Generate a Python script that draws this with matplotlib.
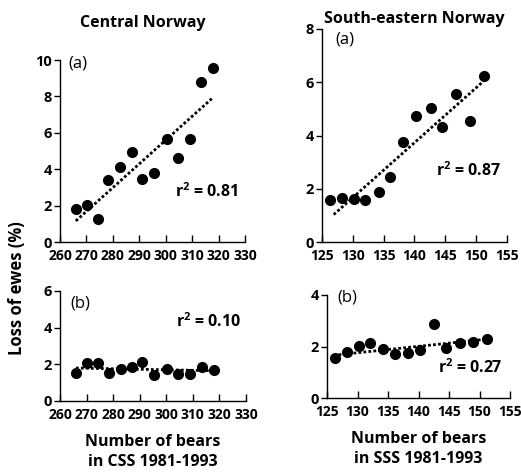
#!/usr/bin/env python3
"""Loss of ewes vs number of bears, central and south-eastern Norway."""

import matplotlib
matplotlib.use("Agg")
import matplotlib.pyplot as plt

# Central Norway: bears in CSS 1981-1993
css_bears = [266, 270.3, 274.4, 278.3, 282.8, 287.1, 291.0, 295.5, 300.3, 304.5, 309.0, 313.5, 318.0]
css_loss_a = [1.80, 2.03, 1.25, 3.41, 4.14, 4.92, 3.44, 3.78, 5.65, 4.60, 5.65, 8.78, 9.54]
css_loss_b = [1.53, 2.09, 2.09, 1.53, 1.74, 1.83, 2.14, 1.41, 1.76, 1.46, 1.46, 1.88, 1.69]
css_fit_x = [266, 318]
css_fit_a = [1.16, 7.95]
css_fit_b = [1.80, 1.65]

# South-eastern Norway: bears in SSS 1981-1993
sss_bears = [126.3, 128.2, 130.2, 132.0, 134.2, 136.1, 138.2, 140.2, 142.6, 144.5, 146.8, 149.0, 151.3]
sss_loss_a = [1.58, 1.66, 1.62, 1.58, 1.86, 2.43, 3.75, 4.75, 5.03, 4.31, 5.57, 4.55, 6.24]
sss_loss_b = [1.56, 1.79, 2.03, 2.13, 1.91, 1.71, 1.73, 1.88, 2.88, 1.96, 2.15, 2.19, 2.28]
sss_fit_x = [126.9, 151.0]
sss_fit_a = [1.03, 6.0]
sss_fit_b = [1.68, 2.28]

r2_labels = ["0.81", "0.10", "0.87", "0.27"]

FONT = "Open Sans"
plt.rcParams.update({
    "font.family": FONT, "font.weight": "bold", "font.size": 10,
    "mathtext.fontset": "custom", "mathtext.bf": FONT + ":bold",
    "mathtext.rm": FONT + ":bold",
})

W, H = 521, 476
fig = plt.figure(figsize=(W / 100, H / 100), dpi=100)
fig.patch.set_facecolor("white")


def px_axes(x0, x1, ytop, ybot):
    return fig.add_axes([x0 / W, 1 - ybot / H, (x1 - x0) / W, (ybot - ytop) / H])


def style(ax, xlim, xticks, ylim, yticks):
    ax.set_xlim(*xlim)
    ax.set_ylim(*ylim)
    ax.set_xticks(list(xticks), [str(t) for t in xticks], fontweight="bold", fontsize=10)
    ax.set_yticks(list(yticks), [str(t) for t in yticks], fontweight="bold", fontsize=10.5)
    for s in ("top", "right"):
        ax.spines[s].set_visible(False)
    for s in ("left", "bottom"):
        ax.spines[s].set_linewidth(1.0)
    ax.tick_params(axis="x", direction="in", length=5, width=1.0, pad=5)
    ax.tick_params(axis="y", direction="out", length=4, width=1.0, pad=2)


def draw(ax, x, y, fx, fy):
    ax.plot(x, y, "o", color="black", markersize=7, clip_on=False, zorder=3)
    ax.plot(fx, fy, color="black", lw=2.0, linestyle=(0, (1.0, 0.8)), zorder=2)


def r2_text(ax, xf, yf, val):
    ax.text(xf, yf, r"r$^{2}$ = " + val, transform=ax.transAxes, ha="center",
            va="center", fontsize=11.5, fontweight="bold")


def tag(ax, xf, yf, s):
    ax.text(xf, yf, s, transform=ax.transAxes, ha="center", va="center",
            fontsize=12, fontweight="normal")


css_xt = range(260, 331, 10)
sss_xt = range(125, 156, 5)

ax1 = px_axes(60, 245, 60, 242)
style(ax1, (260, 330), css_xt, (0, 10), range(0, 11, 2))
draw(ax1, css_bears, css_loss_a, css_fit_x, css_fit_a)
tag(ax1, 0.095, 0.98, "(a)")
r2_text(ax1, 0.795, 0.275, r2_labels[0])
ax1.set_title("Central Norway", fontsize=11.5, fontweight="bold", pad=24, x=0.45)

ax2 = px_axes(60, 246, 291, 401)
style(ax2, (260, 330), css_xt, (0, 6), range(0, 7, 2))
draw(ax2, css_bears, css_loss_b, css_fit_x, css_fit_b)
tag(ax2, 0.11, 0.89, "(b)")
r2_text(ax2, 0.8, 0.72, r2_labels[1])
ax2.set_xlabel("Number of bears\nin CSS 1981-1993", fontsize=11.5,
               fontweight="bold", labelpad=9, linespacing=1.3)

ax3 = px_axes(322, 507, 29, 242)
style(ax3, (125, 155), sss_xt, (0, 8), range(0, 9, 2))
draw(ax3, sss_bears, sss_loss_a, sss_fit_x, sss_fit_a)
tag(ax3, 0.125, 0.953, "(a)")
r2_text(ax3, 0.79, 0.333, r2_labels[2])
ax3.set_title("South-eastern Norway", fontsize=11.5, fontweight="bold", pad=4)

ax4 = px_axes(327, 510, 295, 398)
style(ax4, (125, 155), sss_xt, (0, 4), range(0, 5, 2))
draw(ax4, sss_bears, sss_loss_b, sss_fit_x, sss_fit_b)
tag(ax4, 0.11, 0.98, "(b)")
r2_text(ax4, 0.78, 0.29, r2_labels[3])
ax4.set_xlabel("Number of bears\nin SSS 1981-1993", fontsize=11.5,
               fontweight="bold", labelpad=9, linespacing=1.3)

fig.text(17 / W, 1 - 288 / H, "Loss of ewes (%)", rotation=90, ha="center",
         va="center", fontsize=12, fontweight="bold")

fig.savefig("out.png", dpi=100, facecolor="white")
